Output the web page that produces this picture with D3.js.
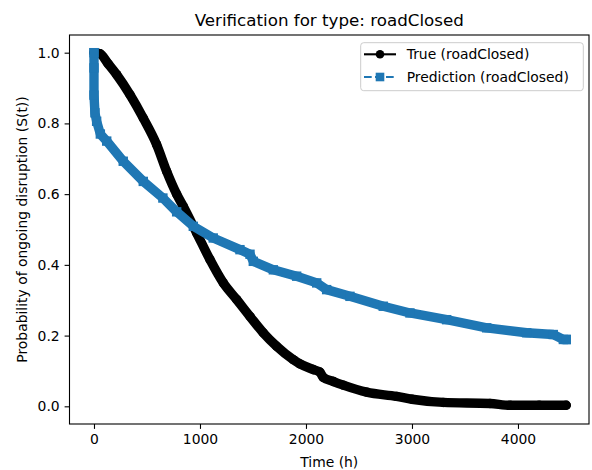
<!DOCTYPE html>
<html>
<head>
<meta charset="utf-8">
<script src="https://cdn.jsdelivr.net/npm/d3@7"></script>
<style>
  body { margin: 0; background: #fff; }
  svg text { font-family: "DejaVu Sans", sans-serif; fill: #000; }
</style>
</head>
<body>
<svg id="chart"></svg>
<script>
// survival curves (time in hours, S(t))
const trueTime = [0, 57, 130, 214, 340, 465, 591, 686, 780, 843, 969, 1094, 1220, 1346, 1472, 1597, 1723, 1880, 1943, 2069, 2130, 2163, 2260, 2352, 2573, 2855, 3000, 3295, 3736, 3925, 4200, 4455];
const trueSurv = [1.0, 0.997, 0.97, 0.938, 0.881, 0.815, 0.74, 0.664, 0.60, 0.565, 0.49, 0.415, 0.349, 0.302, 0.254, 0.208, 0.17, 0.132, 0.12, 0.104, 0.097, 0.082, 0.07, 0.06, 0.04, 0.028, 0.02, 0.011, 0.008, 0.003, 0.003, 0.003];

const predTime = [0, 0, 0, 9, 25, 60, 120, 276, 465, 650, 780, 937, 1125, 1377, 1472, 1503, 1692, 1912, 2101, 2195, 2415, 2729, 2981, 3327, 3705, 4082, 4333, 4428, 4455];
const predSurv = [1.0, 0.957, 0.88, 0.83, 0.806, 0.77, 0.75, 0.693, 0.636, 0.589, 0.55, 0.509, 0.476, 0.443, 0.43, 0.41, 0.386, 0.368, 0.349, 0.33, 0.311, 0.283, 0.264, 0.245, 0.222, 0.208, 0.203, 0.189, 0.189];

const xTicks = [0, 1000, 2000, 3000, 4000];
const yTicks = [0.0, 0.2, 0.4, 0.6, 0.8, 1.0];

const seriesNames = ["True (roadClosed)", "Prediction (roadClosed)"];
const blue = "#1f77b4";

const W = 592, H = 470;
const plot = { left: 69.5, right: 589, top: 35, bottom: 424 };
const mk = 9.4; // marker size incl. edge

const svg = d3.select("#chart").attr("width", W).attr("height", H);

const x = d3.scaleLinear().domain([-231, 4670]).range([plot.left, plot.right]);
const y = d3.scaleLinear().domain([-0.05, 1.05]).range([plot.bottom, plot.top]);

const trueData = trueTime.map((t, i) => ({ t: t, s: trueSurv[i] }));
const predData = predTime.map((t, i) => ({ t: t, s: predSurv[i] }));

const line = d3.line().x(d => x(d.t)).y(d => y(d.s));
const smoothLine = d3.line().x(d => x(d.t)).y(d => y(d.s)).curve(d3.curveMonotoneX);

// clip to the axes box
svg.append("clipPath").attr("id", "clip")
  .append("rect")
    .attr("x", plot.left).attr("y", plot.top)
    .attr("width", plot.right - plot.left).attr("height", plot.bottom - plot.top);

const g = svg.append("g").attr("clip-path", "url(#clip)");

// the markers sit so close together they form a thick band
g.append("path")
  .datum(trueData)
  .attr("d", smoothLine)
  .attr("fill", "none")
  .attr("stroke", "#000")
  .attr("stroke-width", mk)
  .attr("stroke-linejoin", "round")
  .attr("stroke-linecap", "round");

g.selectAll("circle.true")
  .data(trueData)
  .join("circle")
    .attr("class", "true")
    .attr("cx", d => x(d.t))
    .attr("cy", d => y(d.s))
    .attr("r", mk / 2)
    .attr("fill", "#000");

g.append("path")
  .datum(predData)
  .attr("d", line)
  .attr("fill", "none")
  .attr("stroke", blue)
  .attr("stroke-width", mk)
  .attr("stroke-linejoin", "round")
  .attr("stroke-linecap", "square");

g.selectAll("rect.pred")
  .data(predData)
  .join("rect")
    .attr("class", "pred")
    .attr("x", d => x(d.t) - mk / 2)
    .attr("y", d => y(d.s) - mk / 2)
    .attr("width", mk)
    .attr("height", mk)
    .attr("fill", blue);

// axes
const xAxis = svg.append("g")
  .attr("transform", `translate(0,${plot.bottom})`)
  .call(d3.axisBottom(x).tickValues(xTicks).tickFormat(d3.format("d")).tickSizeOuter(0).tickSize(4.9).tickPadding(4.9));

const yAxis = svg.append("g")
  .attr("transform", `translate(${plot.left},0)`)
  .call(d3.axisLeft(y).tickValues(yTicks).tickFormat(d3.format(".1f")).tickSizeOuter(0).tickSize(4.9).tickPadding(4.9));

[xAxis, yAxis].forEach(a => {
  a.select(".domain").remove();
  a.selectAll("line").attr("stroke", "#000").attr("stroke-width", 1.1);
  a.selectAll("text").attr("font-size", 13.9).attr("font-family", "DejaVu Sans, sans-serif").attr("fill", "#000");
});

// spines
svg.append("rect")
  .attr("x", plot.left).attr("y", plot.top)
  .attr("width", plot.right - plot.left).attr("height", plot.bottom - plot.top)
  .attr("fill", "none").attr("stroke", "#000").attr("stroke-width", 1.1);

// title and labels
svg.append("text")
  .attr("x", (plot.left + plot.right) / 2).attr("y", 26)
  .attr("text-anchor", "middle").attr("font-size", 16.7)
  .text("Verification for type: roadClosed");

svg.append("text")
  .attr("x", (plot.left + plot.right) / 2).attr("y", 467)
  .attr("text-anchor", "middle").attr("font-size", 13.9)
  .text("Time (h)");

svg.append("text")
  .attr("transform", `translate(27,${(plot.top + plot.bottom) / 2}) rotate(-90)`)
  .attr("text-anchor", "middle").attr("font-size", 13.9)
  .text("Probability of ongoing disruption (S(t))");

// legend
const legend = svg.append("g");
legend.append("rect")
  .attr("x", 360.7).attr("y", 42.7).attr("width", 222.6).attr("height", 48)
  .attr("rx", 3).attr("fill", "#fff").attr("fill-opacity", 0.8)
  .attr("stroke", "#ccc").attr("stroke-width", 1);

const rows = [54.3, 77];
legend.append("line")
  .attr("x1", 364).attr("x2", 396).attr("y1", rows[0]).attr("y2", rows[0])
  .attr("stroke", "#000").attr("stroke-width", 2.1);
legend.append("circle").attr("cx", 380).attr("cy", rows[0]).attr("r", 4.3).attr("fill", "#000");

legend.append("line")
  .attr("x1", 364).attr("x2", 396).attr("y1", rows[1]).attr("y2", rows[1])
  .attr("stroke", blue).attr("stroke-width", 2.1).attr("stroke-dasharray", "7.7,3.3");
legend.append("rect").attr("x", 380 - 4.3).attr("y", rows[1] - 4.3).attr("width", 8.6).attr("height", 8.6).attr("fill", blue);

legend.selectAll("text.lab")
  .data(seriesNames)
  .join("text")
    .attr("class", "lab")
    .attr("x", 406.7)
    .attr("y", (d, i) => rows[i] + 5)
    .attr("font-size", 13.9)
    .text(d => d);
</script>
</body>
</html>
